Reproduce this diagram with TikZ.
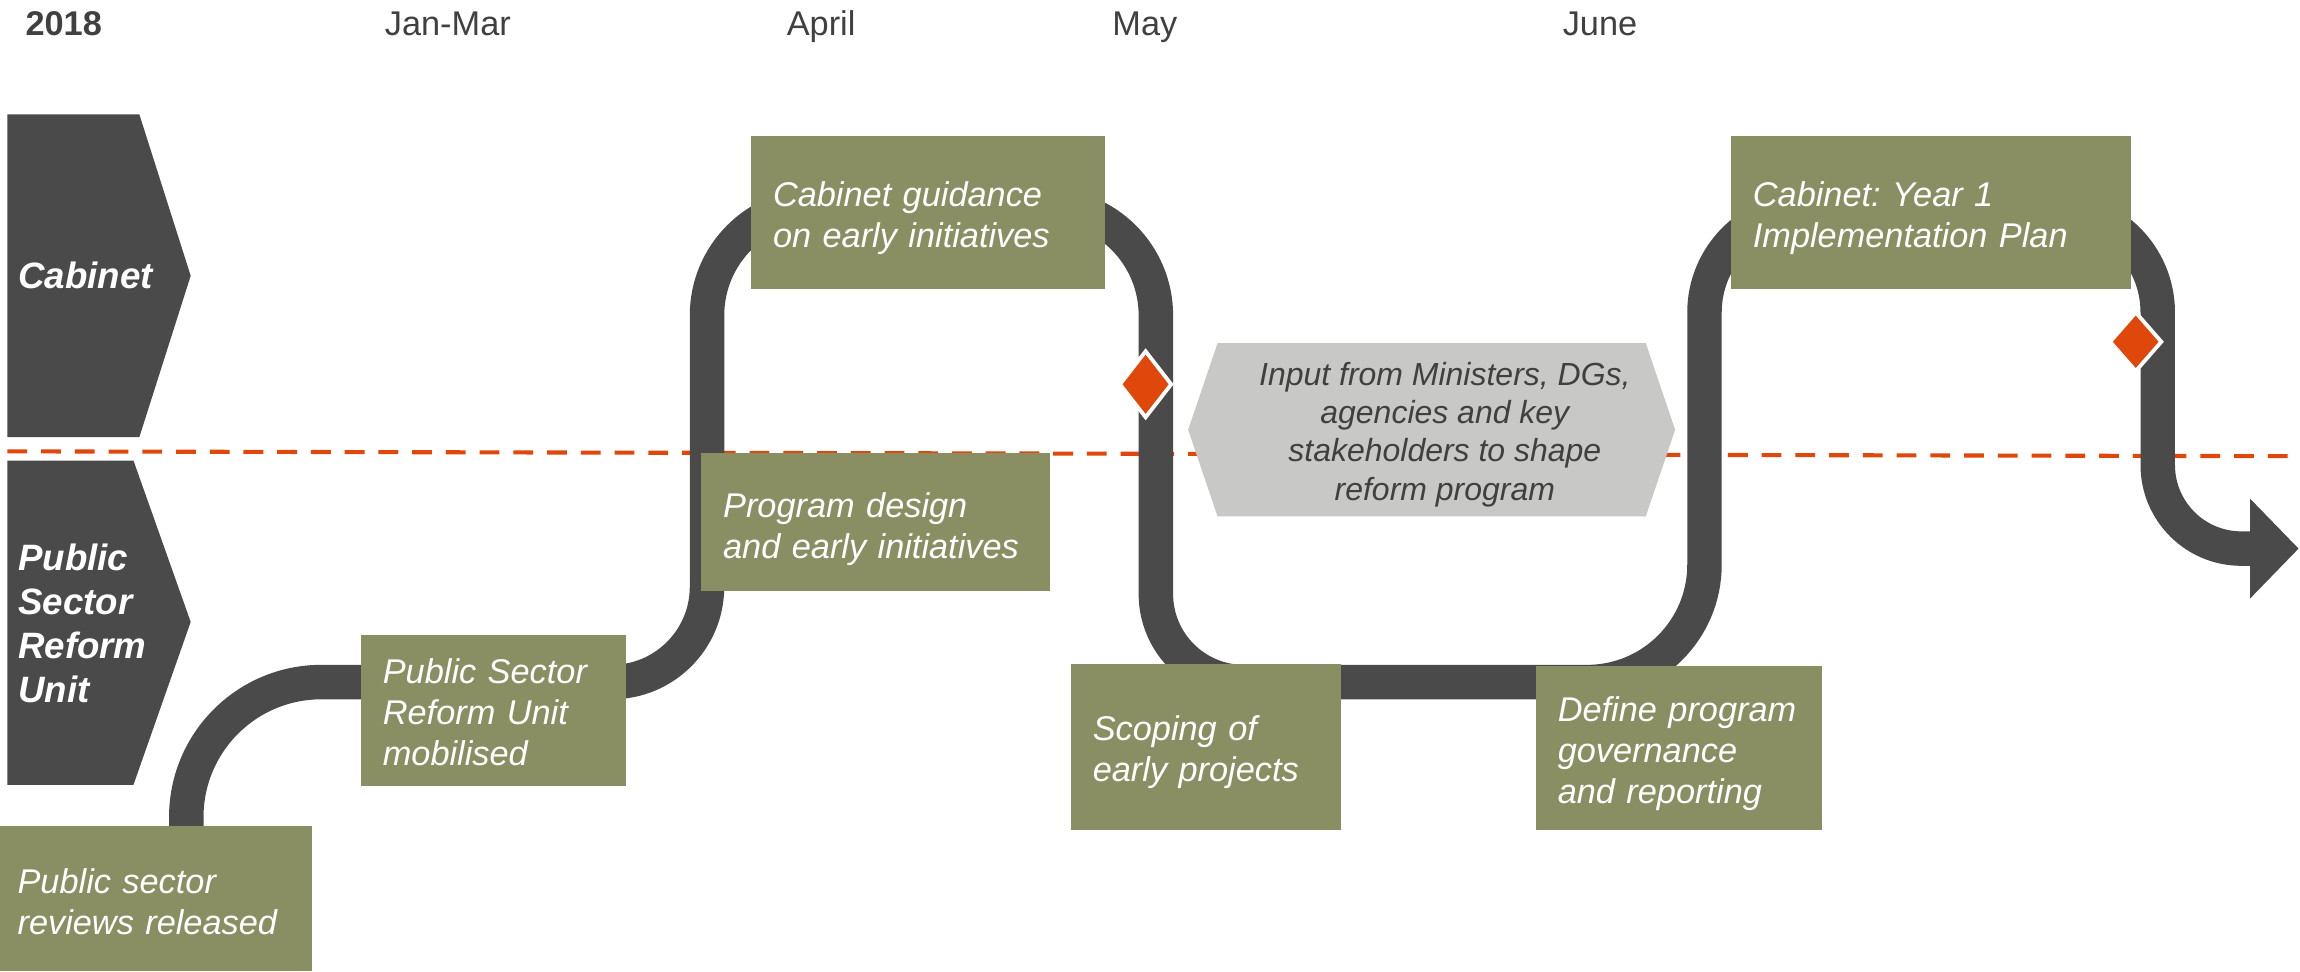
\documentclass[tikz,border=0pt]{standalone}
\usepackage{fontspec}
\setmainfont{Liberation Sans}
\usetikzlibrary{shapes.geometric}
\definecolor{trackgray}{HTML}{4A4A4A}
\definecolor{boxolive}{HTML}{898F63}
\definecolor{hexgray}{HTML}{C8C8C7}
\definecolor{milestonecol}{HTML}{E0470A}
\definecolor{headgray}{HTML}{404040}
\begin{document}
\begin{tikzpicture}[x=0.5pt,y=-0.5pt,
  gbox/.style={fill=boxolive, inner sep=0pt},
  gtext/.style={text=white, inner sep=0pt, align=left,
    font=\fontsize{11.7}{14}\selectfont\itshape},
  head/.style={text=headgray, font=\fontsize{11.7}{14}\selectfont, anchor=base west, inner sep=0pt},
  lane/.style={fill=trackgray},
  lanetext/.style={text=white, font=\fontsize{12.5}{15}\selectfont\bfseries\itshape, align=left, anchor=west, inner sep=0pt},
  track/.style={draw=trackgray, line width=11.75pt},
  milestone/.style={diamond, fill=milestonecol, draw=white, line width=1.3pt, inner sep=0pt},
  divider/.style={draw=milestonecol, line width=1.4pt, dash pattern=on 6.75pt off 4.75pt},
  inputtext/.style={text=headgray, align=center, inner sep=0pt, text depth=0pt,
    font=\fontsize{10.9}{13}\selectfont\itshape}
]
\useasboundingbox (0,0) rectangle (1568,662);

% lane labels
\fill[lane] (5,78) -- (95,78) -- (130,188) -- (95,298) -- (5,298) -- cycle;
\fill[lane] (5,314) -- (91,314) -- (130,424) -- (91,535) -- (5,535) -- cycle;
\node[lanetext] (lcab) at (12,188) {Cabinet};
\node[lanetext] (lpsru) at (12,425) {Public\\Sector\\Reform\\Unit};

% divider
\coordinate (dl) at (5,307.7);
\coordinate (dr) at (1560,311);
\draw[divider] (dl) -- (dr);

% input hexagon
\fill[hexgray] (810,293) -- (830,234) -- (1122,234) -- (1142,293) -- (1122,352) -- (830,352) -- cycle;
\node[inputtext] (input) at (985,294) {Input from Ministers, DGs,\\agencies and key\\stakeholders to shape\\reform program};

% track
\coordinate (trackstart) at (127,600);
\coordinate (trackend) at (1536,374);
\draw[track] (trackstart) -- (127,557) .. controls (127,506.2) and (168.2,465) .. (219,465)
 -- (417,465) .. controls (452.9,465) and (482,435.9) .. (482,400)
 -- (482,215) .. controls (482,173.6) and (515.6,140) .. (557,140)
 -- (713,140) .. controls (754.4,140) and (788,173.6) .. (788,215)
 -- (788,405) .. controls (788,438.1) and (814.9,465) .. (848,465)
 -- (1082,465) .. controls (1126.2,465) and (1162,429.2) .. (1162,385)
 -- (1162,213) .. controls (1162,174.4) and (1193.4,143) .. (1232,143)
 -- (1401,143) .. controls (1439.6,143) and (1471,174.4) .. (1471,213)
 -- (1471,317) .. controls (1471,348.5) and (1496.5,374) .. (1528,374)
 -- (trackend);
\fill[trackgray] (1534,340) -- (1567,374) -- (1534,408) -- cycle;

% boxes
\node[gbox, minimum width=106.5pt, minimum height=49.5pt] (b1) at (106.5,612.5) {};
\node[gbox, minimum width=90.5pt, minimum height=51.5pt] (b2) at (336.5,484.5) {};
\node[gbox, minimum width=120.5pt, minimum height=52pt] (b3) at (632.5,145) {};
\node[gbox, minimum width=119pt, minimum height=47pt] (b4) at (597,356) {};
\node[gbox, minimum width=92pt, minimum height=56.5pt] (b5) at (822,509.5) {};
\node[gbox, minimum width=97.5pt, minimum height=56pt] (b6) at (1144.5,510) {};
\node[gbox, minimum width=136.5pt, minimum height=52pt] (b7) at (1316.5,145) {};

\node[gtext, text width=91.5pt] (t1) at ([xshift=-1.5pt,yshift=-1pt]b1.center) {Public sector\\reviews released};
\node[gtext, text width=75.5pt] (t2) at ([yshift=-0.5pt]b2.center) {Public Sector\\Reform Unit\\mobilised};
\node[gtext, text width=105.5pt] (t3) at ([yshift=-2pt]b3.center) {Cabinet guidance\\on early initiatives};
\node[gtext, text width=104pt] (t4) at ([yshift=-2.5pt]b4.center) {Program design\\and early initiatives};
\node[gtext, text width=77pt] (t5) at ([yshift=-1.5pt]b5.center) {Scoping of\\early projects};
\node[gtext, text width=82.5pt] (t6) at ([yshift=-2pt]b6.center) {Define program\\governance\\and reporting};
\node[gtext, text width=121.5pt] (t7) at ([yshift=-1.75pt]b7.center) {Cabinet:\ Year 1\\Implementation Plan};

% milestones
\node[milestone, minimum width=18pt, minimum height=23pt] (m1) at (781,262) {};
\node[milestone, minimum width=18pt, minimum height=20.5pt] (m2) at (1456,233) {};

% headers
\node[head, font=\fontsize{11.7}{14}\selectfont\bfseries] (h2018) at (17,24) {2018};
\node[head] (hjan) at (262,24) {Jan-Mar};
\node[head] (hapr) at (536,24) {April};
\node[head] (hmay) at (758,24) {May};
\node[head] (hjun) at (1065,24) {June};
\end{tikzpicture}
\end{document}
